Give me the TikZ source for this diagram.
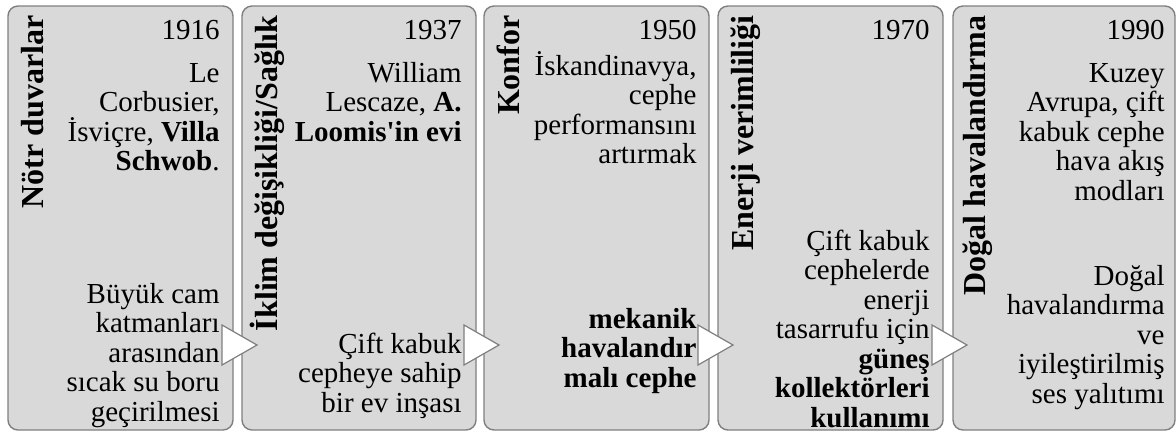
\documentclass[tikz,border=0pt]{standalone}
\usepackage{fontspec}
\setmainfont{Liberation Serif}

\definecolor{panelfill}{HTML}{D9D9D9}
\definecolor{panelline}{HTML}{7F7F7F}
\newcommand{\bodyfont}{\fontsize{14.5}{14.75}\selectfont}
\newcommand{\titlefont}{\fontsize{16}{18}\selectfont\bfseries}
\newcommand{\firstline}{\rule{0pt}{14pt}}

\begin{document}
\begin{tikzpicture}[x=0.5pt,y=-0.5pt,
    panel/.style={draw=panelline, fill=panelfill, line width=0.7pt, rounded corners=5pt},
    tri/.style={draw=panelline, fill=white, line width=0.6pt},
    txt/.style={anchor=north east, align=right, inner sep=0pt, font=\bodyfont},
    ttl/.style={anchor=base east, rotate=90, inner sep=0pt, font=\titlefont}]
    \useasboundingbox (0,0) rectangle (1176,436);

    % Draw the panels
    \foreach \l/\r in {8/233, 242/476, 484/709, 718/943, 953/1175}
        \draw[panel] (\l,6) rectangle (\r,430);

    % Titles
    \node[ttl] (t1) at (43,15) {Nötr duvarlar};
    \node[ttl] (t2) at (277,15) {İklim değişikliği/Sağlık};
    \node[ttl] (t3) at (519,15) {Konfor};
    \node[ttl] (t4) at (753,15) {Enerji verimliliği};
    \node[ttl] (t5) at (985,15) {Doğal havalandırma};

    % Years
    \foreach \x/\yr/\n in {220/1916/1, 462/1937/2, 697/1950/3, 930/1970/4, 1165/1990/5}
        \node[txt] (y\n) at (\x,11) {\firstline\yr};

    % Upper texts
    \node[txt] (u1) at (220,54) {\firstline Le\\Corbusier,\\İsviçre, \textbf{Villa}\\\textbf{Schwob}.};
    \node[txt] (u2) at (462,54) {\firstline William\\Lescaze, \textbf{A.}\\\textbf{Loomis\textquotesingle in evi}};
    \node[txt] (u3) at (697,47) {\firstline İskandinavya,\\cephe\\performansını\\artırmak};
    \node[txt] (u5) at (1165,54) {\firstline Kuzey\\Avrupa, çift\\kabuk cephe\\hava akış\\modları};

    % Lower texts
    \node[txt] (l1) at (220,275) {\firstline Büyük cam\\katmanları\\arasından\\sıcak su boru\\geçirilmesi};
    \node[txt] (l2) at (462,325) {\firstline Çift kabuk\\cepheye sahip\\bir ev inşası};
    \node[txt, font=\bodyfont\bfseries] (l3) at (697,300) {\firstline mekanik\\havalandır\\malı cephe};
    \node[txt] (l4) at (930,222) {\firstline Çift kabuk\\cephelerde\\enerji\\tasarrufu için\\\textbf{güneş}\\\textbf{kollektörleri}\\\textbf{kullanımı}};
    \node[txt] (l5) at (1165,257) {\firstline Doğal\\havalandırma\\ve\\iyileştirilmiş\\ses yalıtımı};

    % Draw the triangles between the panels
    \foreach \x in {222, 464, 698, 932}
        \draw[tri] (\x,325) -- ({\x+35},345) -- (\x,365) -- cycle;
\end{tikzpicture}
\end{document}
